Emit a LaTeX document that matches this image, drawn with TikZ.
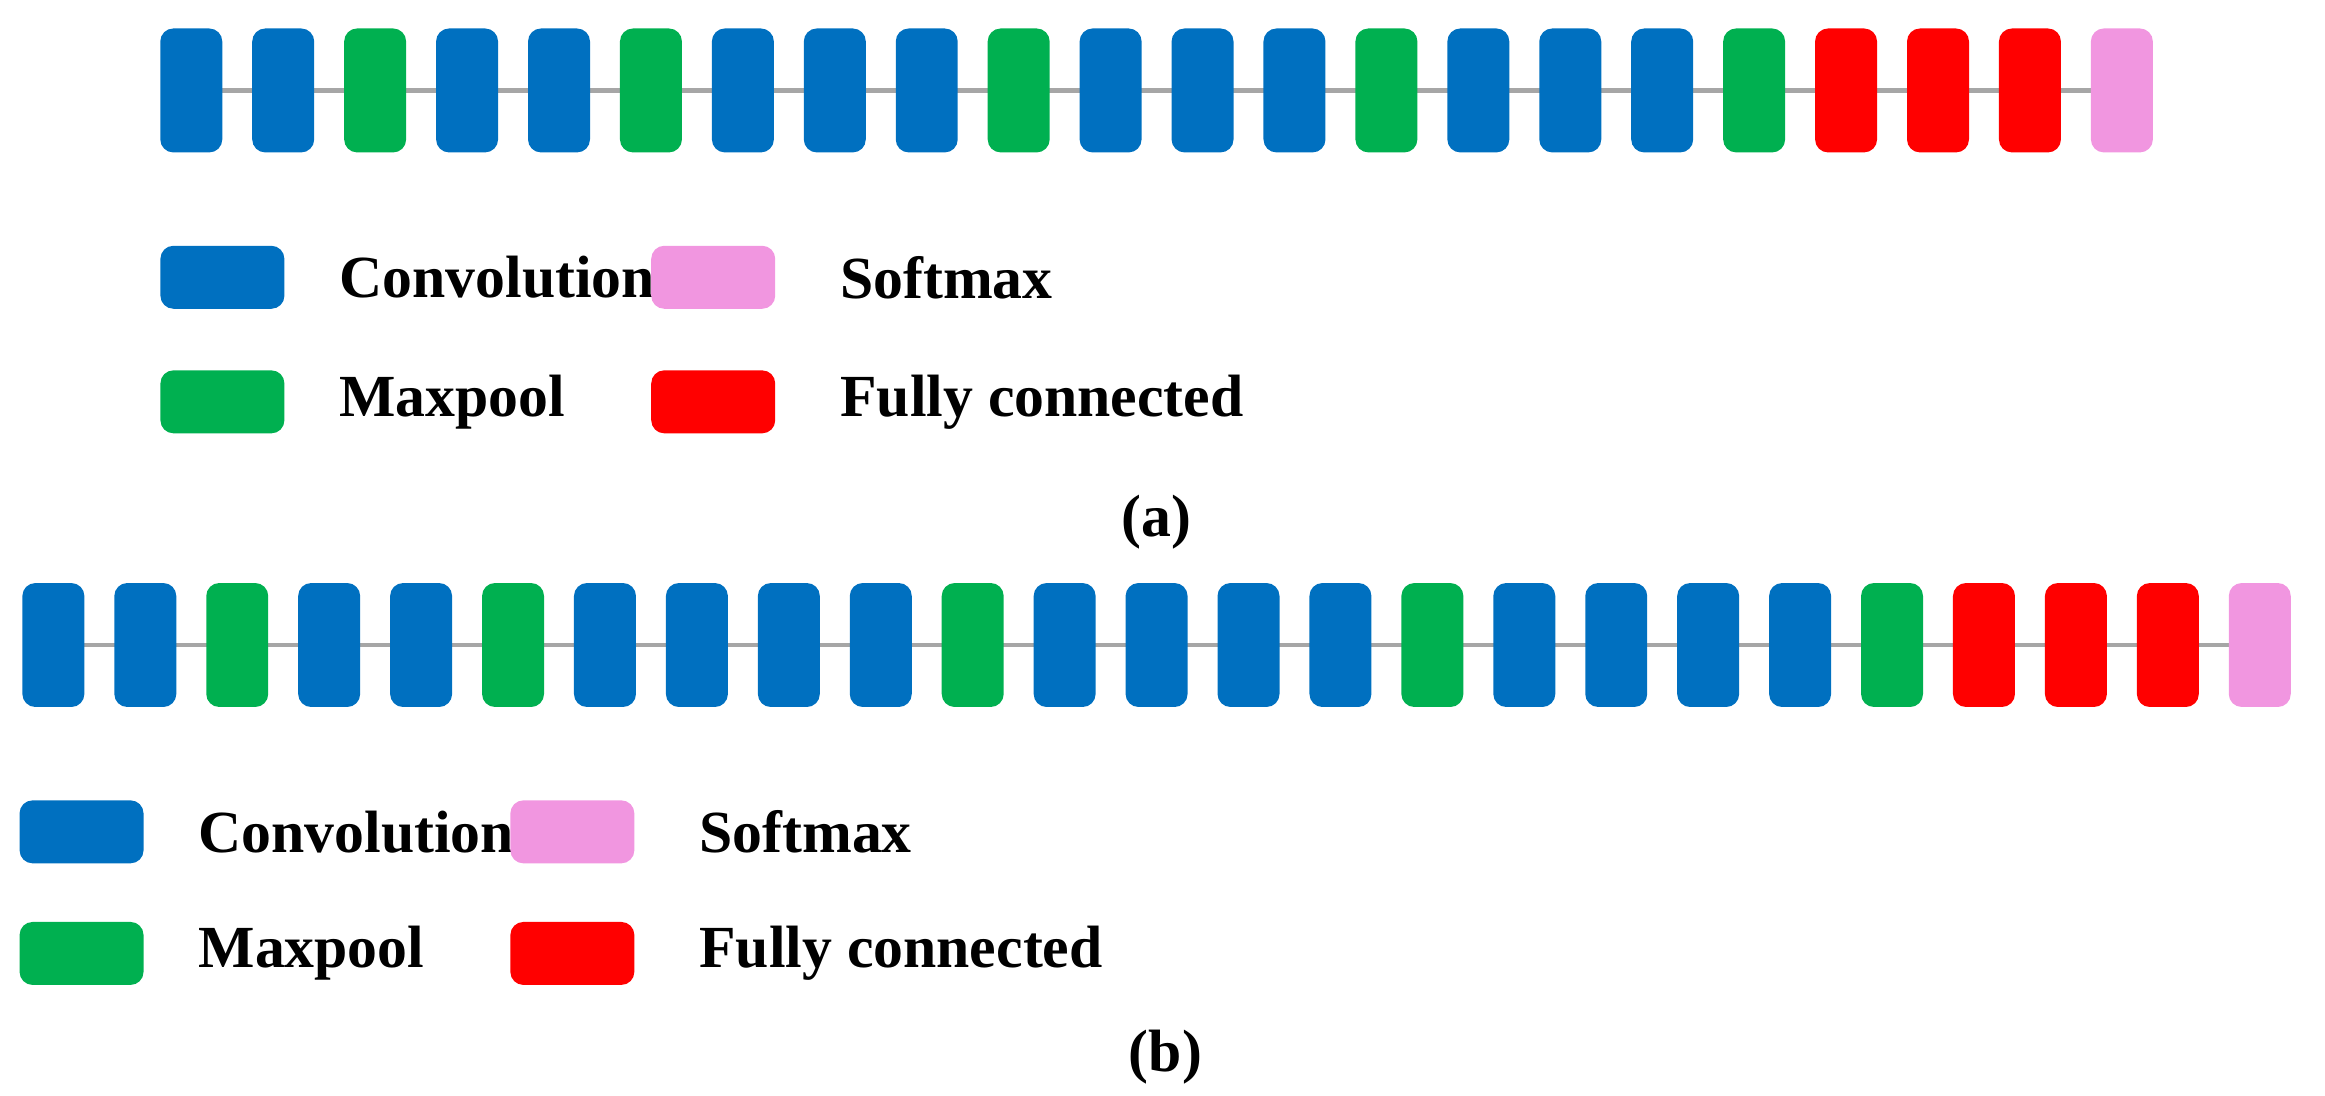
\documentclass[tikz,border=0pt]{standalone}
\usepackage{fontspec}
\setmainfont{Liberation Serif}
\usetikzlibrary{positioning, backgrounds}
\definecolor{convblue}{HTML}{0070C0}
\definecolor{poolgreen}{HTML}{00B050}
\definecolor{fcred}{HTML}{FF0000}
\definecolor{softpink}{HTML}{F196E0}
\begin{document}
\begin{tikzpicture}[
    x=0.01483cm, y=-0.01483cm,
    layer/.style={
        rectangle,
        rounded corners=1.3mm,
        minimum width=0.62cm,
        minimum height=1.24cm,
        inner sep=0pt
    },
    key/.style={
        rectangle,
        rounded corners=1.3mm,
        minimum width=1.24cm,
        minimum height=0.63cm,
        inner sep=0pt
    },
    C/.style={fill=convblue},
    M/.style={fill=poolgreen},
    F/.style={fill=fcred},
    S/.style={fill=softpink},
    label/.style={font=\fontsize{17}{20}\selectfont\bfseries, anchor=west},
    link/.style={draw=gray!70, line width=1.2pt}
]
    \useasboundingbox (0,0) rectangle (1568,739);

    % (a) network
    \foreach \t [count=\i] in {C,C,M,C,C,M,C,C,C,M,C,C,C,M,C,C,C,M,F,F,F,S}
        \node[layer, \t] (a\i) at ({129+62*(\i-1)},61) {};
    \begin{scope}[on background layer]
        \draw[link] (a1.center) -- (a22.center);
    \end{scope}

    % (a) legend
    \node[key, C] (ka1) at (150,187) {};
    \node[label, right=0.42cm of ka1] (ta1) {Convolution};
    \node[key, S] (ka2) at (481,187) {};
    \node[label, right=0.52cm of ka2] (ta2) {Softmax};
    \node[key, M] (ka3) at (150,271) {};
    \node[label, right=0.42cm of ka3] (ta3) {Maxpool};
    \node[key, F] (ka4) at (481,271) {};
    \node[label, right=0.52cm of ka4] (ta4) {Fully connected};
    \node[label, anchor=center] (capa) at (780,352) {(a)};

    % (b) network
    \foreach \t [count=\i] in {C,C,M,C,C,M,C,C,C,C,M,C,C,C,C,M,C,C,C,C,M,F,F,F,S}
        \node[layer, \t] (b\i) at ({36+62*(\i-1)},435) {};
    \begin{scope}[on background layer]
        \draw[link] (b1.center) -- (b25.center);
    \end{scope}

    % (b) legend
    \node[key, C] (kb1) at (55,561) {};
    \node[label, right=0.42cm of kb1] (tb1) {Convolution};
    \node[key, S] (kb2) at (386,561) {};
    \node[label, right=0.52cm of kb2] (tb2) {Softmax};
    \node[key, M] (kb3) at (55,643) {};
    \node[label, right=0.42cm of kb3] (tb3) {Maxpool};
    \node[key, F] (kb4) at (386,643) {};
    \node[label, right=0.52cm of kb4] (tb4) {Fully connected};
    \node[label, anchor=center] (capb) at (786,713) {(b)};
\end{tikzpicture}
\end{document}
